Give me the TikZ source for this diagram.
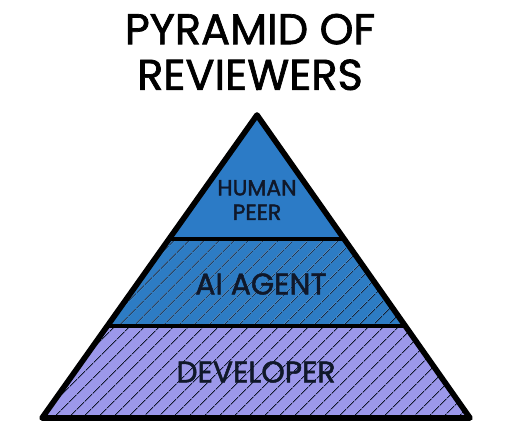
\documentclass[tikz,border=0pt]{standalone}
\usepackage{fontspec}
\setmainfont{Poppins}[FakeBold=1.6, AutoFakeBold=1.6]
\usepackage{xcolor}
\definecolor{peerBlue}  {HTML}{2C7BC6}
\definecolor{agentBlue} {HTML}{2D7CC4}
\definecolor{devBack}   {HTML}{9C98EA}
\definecolor{inkDark}   {HTML}{10182A}
\usetikzlibrary{patterns.meta, calc}
\tikzset{
    outline/.style={line width=3.2pt, line join=round, line cap=round, black},
    divider/.style={line width=2.8pt, line cap=round, black},
    hatch/.style={pattern={Lines[angle=45, distance=6.5pt, line width=0.6pt]},
                  pattern color=inkDark},
    title/.style={font=\bfseries\fontsize{24.5}{26}\selectfont, align=center, inner sep=0pt},
    layer/.style={font=\bfseries\fontsize{17}{19}\selectfont, text=inkDark, align=center,
                  inner sep=0pt},
}

\begin{document}
\begin{tikzpicture}[x=0.02cm, y=-0.02cm]
    \useasboundingbox (0,0) rectangle (513,437);
    % corners of the pyramid
    \coordinate (apex) at (257,115);
    \coordinate (bl) at (42,418);
    \coordinate (br) at (470,418);
    \coordinate (l1) at (169,239);
    \coordinate (r1) at (344,239);
    \coordinate (l2) at (107,326);
    \coordinate (r2) at (405,326);
    % bands
    \fill[peerBlue] (apex) -- (r1) -- (l1) -- cycle;
    \fill[agentBlue] (l1) -- (r1) -- (r2) -- (l2) -- cycle;
    \fill[hatch] (l1) -- (r1) -- (r2) -- (l2) -- cycle;
    \fill[devBack] (l2) -- (r2) -- (br) -- (bl) -- cycle;
    \fill[hatch] (l2) -- (r2) -- (br) -- (bl) -- cycle;
    \draw[divider] (l1) -- (r1);
    \draw[divider] (l2) -- (r2);
    \draw[outline] (apex) -- (br) -- (bl) -- cycle;
    % labels
    \node[title] (heading) at (250,52) {PYRAMID OF\\REVIEWERS};
    \node[layer, font=\bfseries\fontsize{12.5}{14}\selectfont] (human) at (257,200) {HUMAN\\PEER};
    \node[layer] (agent) at (261,284) {AI AGENT};
    \node[layer] (dev) at (256,372) {DEVELOPER};
\end{tikzpicture}
\end{document}
